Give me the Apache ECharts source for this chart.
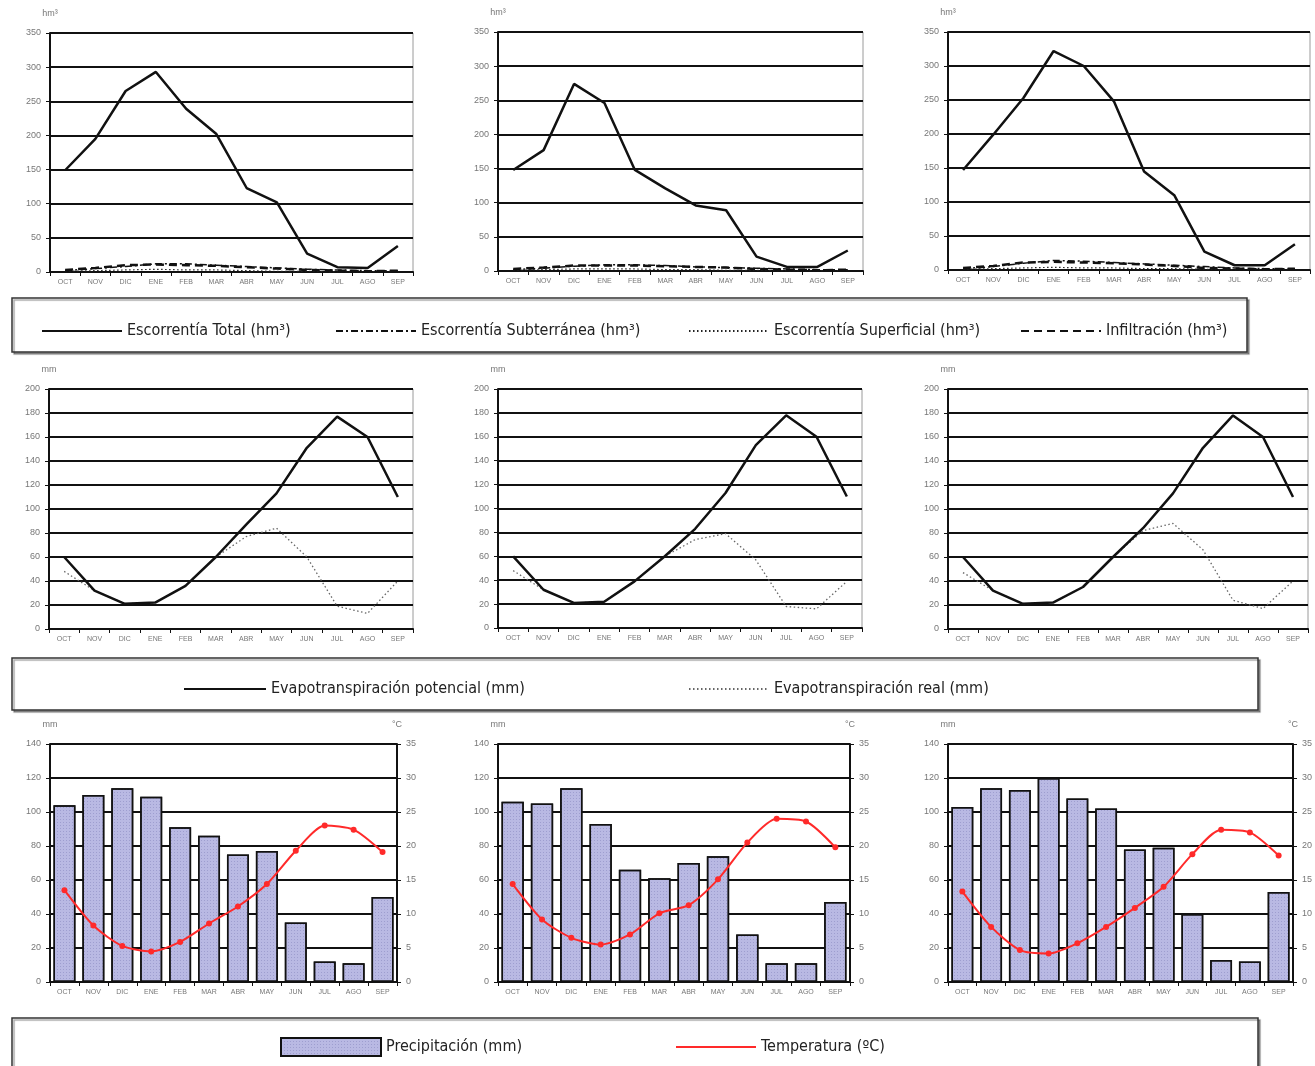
<!DOCTYPE html>
<html>
<head>
<meta charset="utf-8">
<script src="https://cdn.jsdelivr.net/npm/echarts@6/dist/echarts.min.js"></script>
<style>
html,body{margin:0;padding:0;background:#fff;}
#chart{width:1315px;height:1066px;}
</style>
</head>
<body>
<div id="chart"></div>
<script>
var meses = ['OCT','NOV','DIC','ENE','FEB','MAR','ABR','MAY','JUN','JUL','AGO','SEP'];

// escorrentia (hm3), una serie por grafico
var escTotal1 = [149,195,265,293,239,202,123,102,27,7,6,38];
var escSubt1  = [2,5,8,12,12,10,8,6,4,3,2,2];
var escSup1   = [1,2,3,4,3,3,2,1,1,0,0,1];
var infil1    = [3,6,10,11,10,9,7,5,3,2,1,2];

var escTotal2 = [148,177,274,246,148,121,96,89,21,6,6,30];
var escSubt2  = [2,4,7,9,9,8,6,5,4,3,2,2];
var escSup2   = [1,2,3,3,3,2,2,1,1,0,0,1];
var infil2    = [3,5,8,8,8,7,6,5,3,2,1,2];

var escTotal3 = [147,199,253,322,300,248,145,110,27,7,7,38];
var escSubt3  = [2,5,10,14,13,11,9,7,5,3,2,2];
var escSup3   = [1,2,3,4,3,3,2,2,1,0,0,1];
var infil3    = [3,6,11,12,11,10,8,6,3,2,1,2];

// evapotranspiracion (mm)
var etp1  = [60,32,21,22,36,60,87,113,151,177,160,110];
var etr1  = [48,32,21,22,36,60,77,84,60,19,13,40];
var etp2  = [60,32,21,22,39,60,83,113,153,178,160,110];
var etr2  = [48,32,21,22,39,60,74,79,57,18,16,39];
var etp3  = [60,32,21,22,35,60,84,113,151,178,160,110];
var etr3  = [47,32,21,22,35,60,82,88,66,24,17,40];

// precipitacion (mm) y temperatura (C)
var prec1 = [104,110,114,109,91,86,75,77,35,12,11,50];
var temp1 = [13.5,8.3,5.3,4.5,5.9,8.6,11.1,14.4,19.3,23,22.4,19.1];
var prec2 = [106,105,114,93,66,61,70,74,28,11,11,47];
var temp2 = [14.4,9.2,6.5,5.5,7,10.1,11.3,15.1,20.5,24,23.6,19.8];
var prec3 = [103,114,113,120,108,102,78,79,40,13,12,53];
var temp3 = [13.3,8.1,4.7,4.2,5.7,8.1,10.9,14,18.8,22.4,22,18.6];

var N_TOTAL = 'Escorrentía Total (hm³)';
var N_SUBT = 'Escorrentía Subterránea (hm³)';
var N_SUP = 'Escorrentía Superficial (hm³)';
var N_INF = 'Infiltración (hm³)';
var N_ETP = 'Evapotranspiración potencial (mm)';
var N_ETR = 'Evapotranspiración real (mm)';
var N_PREC = 'Precipitación (mm)';
var N_TEMP = 'Temperatura (ºC)';

var grids = [
  {left:50, top:33, width:363, height:239},
  {left:498, top:32, width:365, height:239},
  {left:948, top:32, width:362, height:238},
  {left:49, top:389, width:364, height:240},
  {left:498, top:389, width:364, height:239},
  {left:948, top:389, width:360, height:240},
  {left:50, top:744, width:347, height:238},
  {left:498, top:744, width:352, height:238},
  {left:948, top:744, width:352, height:238}
];
grids.forEach(function(g){
  g.show = true; g.borderColor = '#9a9a9a'; g.borderWidth = 1;
  g.backgroundColor = 'transparent';
});

var xAxes = [], yAxes = [];
for (var i=0;i<9;i++){
  xAxes.push({
    type:'category', gridIndex:i, data:meses, boundaryGap:true,
    axisLine:{lineStyle:{color:'#111', width:2}},
    axisTick:{show:true, length:4, lineStyle:{color:'#111'}},
    axisLabel:{color:'#777', fontSize:7, margin:7, interval:0}
  });
}
var yCfg = [
  {max:350, interval:50, name:'hm³'},
  {max:350, interval:50, name:'hm³'},
  {max:350, interval:50, name:'hm³'},
  {max:200, interval:20, name:'mm'},
  {max:200, interval:20, name:'mm'},
  {max:200, interval:20, name:'mm'},
  {max:140, interval:20, name:'mm'},
  {max:140, interval:20, name:'mm'},
  {max:140, interval:20, name:'mm'}
];
yCfg.forEach(function(c, i){
  yAxes.push({
    type:'value', gridIndex:i, min:0, max:c.max, interval:c.interval,
    name:c.name, nameLocation:'end', nameGap:15,
    nameTextStyle:{color:'#777', fontSize:9, align:'center'},
    axisLine:{show:true, lineStyle:{color:'#111', width:2}},
    axisTick:{show:true, length:4, lineStyle:{color:'#111'}},
    axisLabel:{color:'#777', fontSize:9, margin:9},
    splitLine:{show:true, lineStyle:{color:'#111', width:2}}
  });
});
// eje de temperatura a la derecha
for (var k=6;k<9;k++){
  yAxes.push({
    type:'value', gridIndex:k, position:'right', min:0, max:35, interval:5,
    name:'°C', nameLocation:'end', nameGap:15,
    nameTextStyle:{color:'#777', fontSize:9, align:'center'},
    axisLine:{show:true, lineStyle:{color:'#111', width:2}},
    axisTick:{show:true, length:4, lineStyle:{color:'#111'}},
    axisLabel:{color:'#777', fontSize:9, margin:9},
    splitLine:{show:false}
  });
}

var series = [];
function escorrentia(idx, tot, subt, sup, inf){
  series.push({name:N_SUP, type:'line', xAxisIndex:idx, yAxisIndex:idx, data:sup, symbol:'none',
    lineStyle:{color:'#222', width:1.2, type:[1.5,2.5]}, itemStyle:{color:'#222'}});
  series.push({name:N_SUBT, type:'line', xAxisIndex:idx, yAxisIndex:idx, data:subt, symbol:'none',
    lineStyle:{color:'#111', width:1.5, type:[7,3,2,3]}, itemStyle:{color:'#111'}});
  series.push({name:N_INF, type:'line', xAxisIndex:idx, yAxisIndex:idx, data:inf, symbol:'none',
    lineStyle:{color:'#111', width:2.5, type:[8,5]}, itemStyle:{color:'#111'}});
  series.push({name:N_TOTAL, type:'line', xAxisIndex:idx, yAxisIndex:idx, data:tot, symbol:'none',
    lineStyle:{color:'#111', width:2.5}, itemStyle:{color:'#111'}});
}
function evapo(idx, etp, etr){
  series.push({name:N_ETR, type:'line', xAxisIndex:idx, yAxisIndex:idx, data:etr, symbol:'none',
    lineStyle:{color:'#666', width:1.3, type:[1.5,2.5]}, itemStyle:{color:'#666'}});
  series.push({name:N_ETP, type:'line', xAxisIndex:idx, yAxisIndex:idx, data:etp, symbol:'none',
    lineStyle:{color:'#111', width:2.5}, itemStyle:{color:'#111'}});
}
function clima(idx, rightIdx, prec, temp){
  series.push({name:N_PREC, type:'bar', xAxisIndex:idx, yAxisIndex:idx, data:prec, barCategoryGap:'24%',
    itemStyle:{color:'#b9b9e3', borderColor:'#111', borderWidth:1.5,
      decal:{symbol:'rect', symbolSize:1, color:'rgba(110,110,170,0.35)', dashArrayX:[1,2], dashArrayY:[1,2]}}});
  series.push({name:N_TEMP, type:'line', xAxisIndex:idx, yAxisIndex:rightIdx, data:temp, smooth:0.25,
    symbol:'circle', symbolSize:6, z:5,
    lineStyle:{color:'#ff2a2a', width:2}, itemStyle:{color:'#ff2a2a'}});
}
escorrentia(0, escTotal1, escSubt1, escSup1, infil1);
escorrentia(1, escTotal2, escSubt2, escSup2, infil2);
escorrentia(2, escTotal3, escSubt3, escSup3, infil3);
evapo(3, etp1, etr1);
evapo(4, etp2, etr2);
evapo(5, etp3, etr3);
clima(6, 9, prec1, temp1);
clima(7, 10, prec2, temp2);
clima(8, 11, prec3, temp3);

var legFont = {color:'#222', fontSize:16, fontFamily:"'Liberation Sans Narrow','DejaVu Sans Condensed',sans-serif"};
function leg(name, left, top, w, h, noSymbol){
  var l = {data:[name], left:left, top:top, itemWidth:w, itemHeight:h, itemGap:0,
    textStyle:legFont, selectedMode:false};
  if (noSymbol) l.itemStyle = {opacity:0};
  else l.icon = 'rect';
  return l;
}
var legends = [
  leg(N_TOTAL, 36, 318, 80, 14, true),
  leg(N_SUBT, 330, 318, 80, 14, true),
  leg(N_SUP, 683, 318, 80, 14, true),
  leg(N_INF, 1015, 318, 80, 14, true),
  leg(N_ETP, 178, 676, 82, 14, true),
  leg(N_ETR, 683, 676, 80, 14, true),
  leg(N_PREC, 275, 1032, 100, 18, false),
  leg(N_TEMP, 670, 1034, 80, 14, true)
];

function caja(x, y, w, h){
  return {type:'rect', shape:{x:x, y:y, width:w, height:h}, z:-1,
    style:{fill:'#fff', stroke:'#333', lineWidth:1.5,
      shadowColor:'rgba(0,0,0,0.35)', shadowOffsetX:2, shadowOffsetY:2, shadowBlur:1}};
}

var chart = echarts.init(document.getElementById('chart'), null, {renderer:'canvas'});
chart.setOption({
  animation:false,
  backgroundColor:'#fff',
  textStyle:{fontFamily:'Arial, Liberation Sans, sans-serif'},
  grid:grids,
  xAxis:xAxes,
  yAxis:yAxes,
  legend:legends,
  graphic:[caja(12,298,1235,54), caja(12,658,1246,52), caja(12,1018,1246,52)],
  series:series
});
</script>
</body>
</html>
